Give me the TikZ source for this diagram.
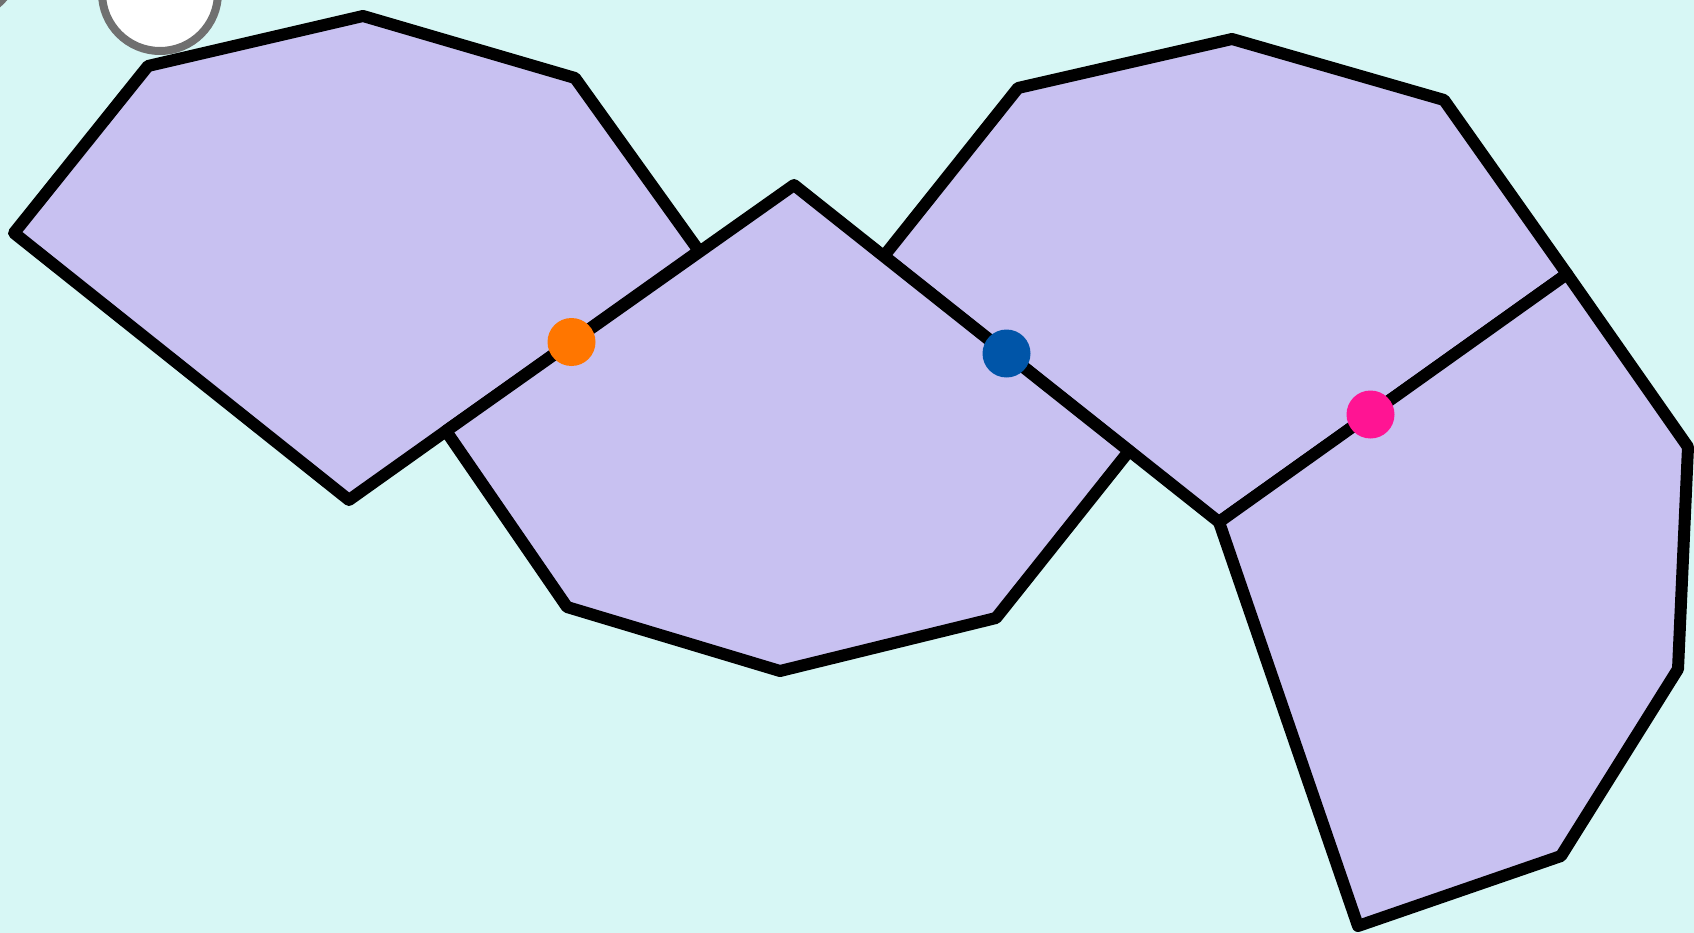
\documentclass[tikz,border=0pt]{standalone}
\begin{document}
\begin{tikzpicture}[x=1pt,y=-1pt,
  poly/.style={draw=black,fill=lav,line width=12pt,line join=round},
  ring/.style={draw=ringgray,fill=white,line width=8pt},
  dot/.style={circle,inner sep=0pt,minimum size=48pt,draw=none}]
\definecolor{bg}{HTML}{D7F7F5}
\definecolor{lav}{HTML}{C8C1F1}
\definecolor{ringgray}{HTML}{707070}
\definecolor{dorange}{HTML}{FF7600}
\definecolor{dblue}{HTML}{0055A8}
\definecolor{dpink}{HTML}{FF1493}
\useasboundingbox (0,0) rectangle (1694,933);
\clip (0,0) rectangle (1694,933);
\fill[bg] (0,0) rectangle (1694,933);
% circles at the top left
\draw[ring] (-40,-40) circle[radius=58];
\draw[ring] (160,-7) circle[radius=58];
% polygon A
\coordinate (a1) at (14,233);
\coordinate (a2) at (148,66);
\coordinate (a3) at (363,16);
\coordinate (a4) at (575,78);
\coordinate (a5) at (699,251);
\coordinate (a6) at (349,500);
% polygon C = A shifted
\coordinate (c1) at (884,256);
\coordinate (c2) at (1018,88);
\coordinate (c3) at (1232,39);
\coordinate (c4) at (1444,100);
\coordinate (c5) at (1567,274);
\coordinate (c6) at (1219,522);
% polygon B
\coordinate (b1) at (794,185);
\coordinate (b2) at (1129,451);
\coordinate (b3) at (996,618);
\coordinate (b4) at (780,671);
\coordinate (b5) at (567,607);
\coordinate (b6) at (446,431);
% polygon D
\coordinate (d1) at (1219,522);
\coordinate (d2) at (1567,274);
\coordinate (d3) at (1688,447);
\coordinate (d4) at (1678,669);
\coordinate (d5) at (1561,856);
\coordinate (d6) at (1358,926);
\draw[poly] (a1) -- (a2) -- (a3) -- (a4) -- (a5) -- (a6) -- cycle;
\draw[poly] (c1) -- (c2) -- (c3) -- (c4) -- (c5) -- (c6) -- cycle;
\draw[poly] (b1) -- (b2) -- (b3) -- (b4) -- (b5) -- (b6) -- cycle;
\draw[poly] (d1) -- (d2) -- (d3) -- (d4) -- (d5) -- (d6) -- cycle;
% dots
\node[dot,fill=dorange] (p1) at (571.5,342) {};
\node[dot,fill=dblue] (p2) at (1006.5,353.5) {};
\node[dot,fill=dpink] (p3) at (1370.5,414.5) {};
\end{tikzpicture}
\end{document}
